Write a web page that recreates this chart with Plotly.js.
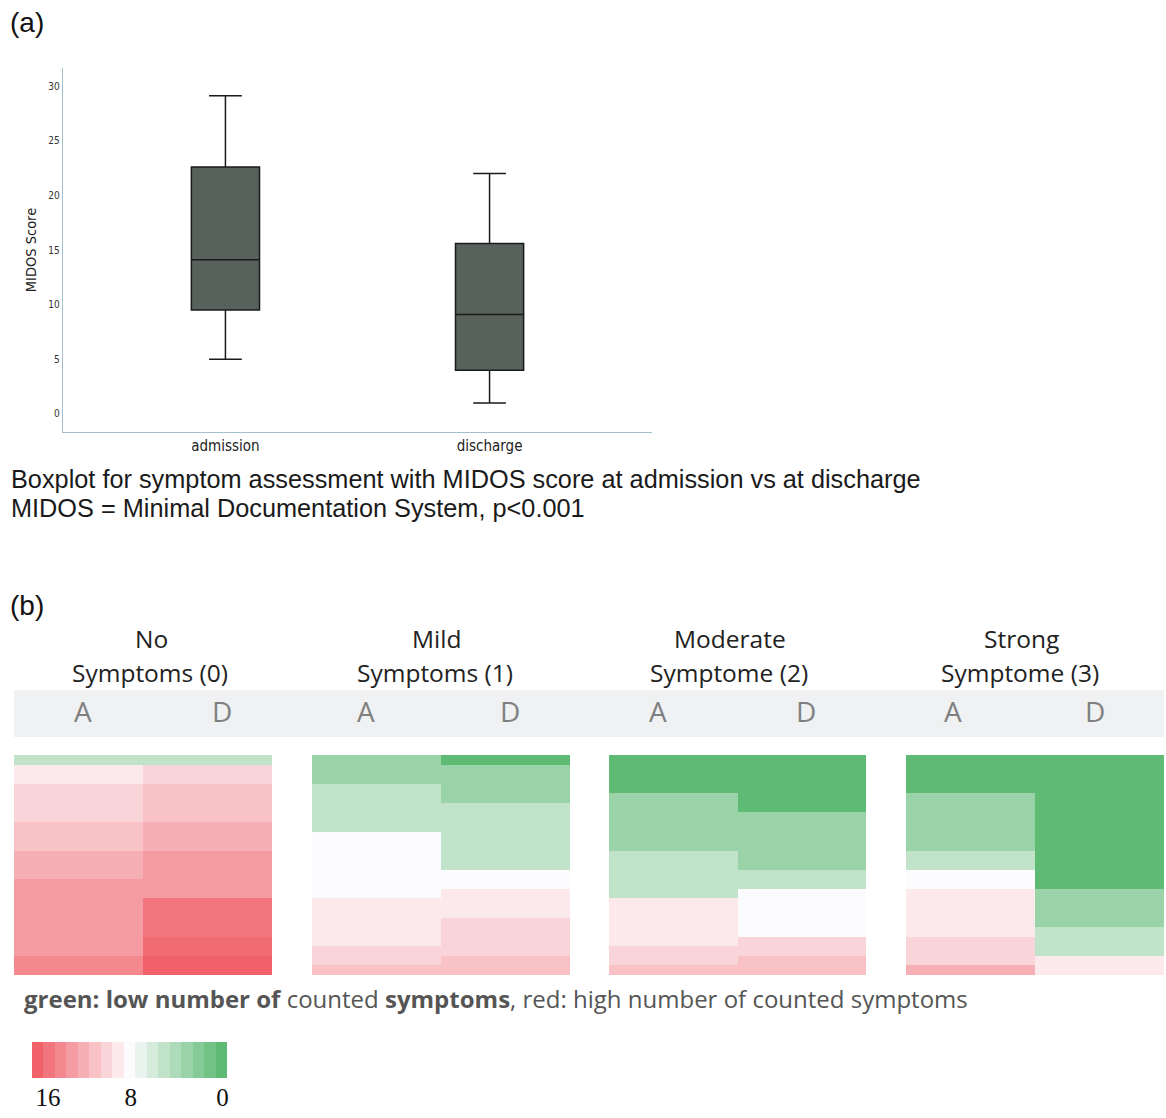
<!DOCTYPE html>
<html>
<head>
<meta charset="utf-8">
<script src="https://cdn.plot.ly/plotly-3.0.1.min.js"></script>
<style>
html,body{margin:0;padding:0;background:#fff;}
#chart{width:1166px;height:1118px;}
</style>
</head>
<body>
<div id="chart"></div>
<script>
// ---------- Data: (a) boxplot ----------
const boxCategories = ['admission', 'discharge'];
const boxLowerFence = [5.0, 1.0];
const boxQ1 = [9.5, 4.0];
const boxMedian = [14.1, 9.1];
const boxQ3 = [22.6, 15.6];
const boxUpperFence = [29.1, 22.0];
const boxYTicks = [0, 5, 10, 15, 20, 25, 30];

// ---------- Data: (b) heatmaps (23 patients, sorted) ----------
const heatColumns = ['A', 'D'];
const patientRows = [1,2,3,4,5,6,7,8,9,10,11,12,13,14,15,16,17,18,19,20,21,22,23];
const groupTitleLine1 = ['No', 'Mild', 'Moderate', 'Strong'];
const groupTitleLine2 = ['Symptoms (0)', 'Symptoms (1)', 'Symptome (2)', 'Symptome (3)'];

const noA   = [5, 9,9, 10,10,10,10, 11,11,11, 12,12,12, 13,13,13,13,13,13, 13,13,14,14];
const noD   = [5, 10,10, 11,11,11,11, 12,12,12, 13,13,13,13,13, 15,15,15,15, 15.5,15.5,16,16];
const mildA = [3,3,3, 5,5,5,5,5, 8,8,8,8,8,8,8, 9,9,9,9,9, 10,10, 11];
const mildD = [0, 3,3,3,3, 5,5,5,5,5,5,5, 8,8, 9,9,9, 10,10,10,10, 11,11];
const modA  = [0,0,0,0, 3,3,3,3,3,3, 5,5,5,5,5, 9,9,9,9,9, 10,10, 11];
const modD  = [0,0,0,0,0,0, 3,3,3,3,3,3, 5,5, 8,8,8,8,8, 10,10, 11,11];
const strA  = [0,0,0,0, 3,3,3,3,3,3, 5,5, 8,8, 9,9,9,9,9, 10,10,10, 12];
const strD  = [0,0,0,0,0,0,0,0,0,0,0,0,0,0, 3,3,3,3, 5,5,5, 9,9];

// ---------- Data: colour legend ----------
const legendValues = [16,15,14,13,12,11,10,9,8,7,6,5,4,3,2,1,0];
const legendTickText = ['16', '8', '0'];
const legendTickPositions = [15.1, 7.9, -0.1];

// ---------- Helpers ----------
const W = 1166, H = 1118;
const px = x => x / W;
const py = y => 1 - y / H;
const colorscale = [[0, '#5fba74'], [0.5, '#fcfcfe'], [1, '#f0616a']];

function zip(a, d) { return a.map((v, i) => [v, d[i]]); }

const panels = [[noA, noD], [mildA, mildD], [modA, modD], [strA, strD]];
const panelX = [[14, 272], [312, 570], [609, 866], [906, 1164]];

const traces = [];
traces.push({
  type: 'box',
  x: boxCategories,
  q1: boxQ1, median: boxMedian, q3: boxQ3,
  lowerfence: boxLowerFence, upperfence: boxUpperFence,
  width: 0.258,
  whiskerwidth: 0.48,
  fillcolor: '#57625c',
  line: {color: '#1a1a1a', width: 1.5},
  boxpoints: false,
  showlegend: false,
  xaxis: 'x', yaxis: 'y'
});

panels.forEach((p, i) => {
  traces.push({
    type: 'heatmap',
    x: heatColumns,
    y: patientRows,
    z: zip(p[0], p[1]),
    zmin: 0, zmax: 16,
    colorscale: colorscale,
    showscale: false,
    xaxis: 'x' + (i + 2), yaxis: 'y' + (i + 2)
  });
});

traces.push({
  type: 'heatmap',
  x: legendValues,
  y: [0],
  z: [legendValues],
  zmin: 0, zmax: 16,
  colorscale: colorscale,
  showscale: false,
  xaxis: 'x6', yaxis: 'y6'
});

const hidden = {showgrid: false, zeroline: false, showticklabels: false, ticks: '', showline: false, fixedrange: true};
const narrow = 'Liberation Sans Narrow, DejaVu Sans Condensed, Liberation Sans, sans-serif';

const layout = {
  width: W, height: H,
  margin: {l: 0, r: 0, t: 0, b: 0},
  paper_bgcolor: '#ffffff',
  plot_bgcolor: 'rgba(0,0,0,0)',
  showlegend: false,
  font: {family: 'Liberation Sans, Arial, sans-serif', color: '#222'},
  xaxis: {
    domain: [px(63), px(652)],
    type: 'category',
    range: [-0.615, 1.615],
    showline: true, linecolor: '#a3c0cf', linewidth: 1.2,
    showgrid: false, zeroline: false, ticks: '',
    tickfont: {family: narrow, size: 15, color: '#222'},
    anchor: 'y'
  },
  yaxis: {
    domain: [py(432), py(68)],
    range: [-1.65, 31.65],
    tickvals: boxYTicks,
    showline: true, linecolor: '#a3c0cf', linewidth: 1.2,
    showgrid: false, zeroline: false, ticks: '',
    tickfont: {family: narrow, size: 10, color: '#333'},
    title: {text: 'MIDOS Score', standoff: 8, font: {family: narrow, size: 14.5, color: '#222'}},
    anchor: 'x'
  },
  annotations: [],
  shapes: [{
    type: 'rect', xref: 'paper', yref: 'paper', layer: 'below',
    x0: px(14), x1: px(1164), y0: py(737), y1: py(690),
    fillcolor: '#f0f1f3', line: {width: 0}
  }]
};

panels.forEach((p, i) => {
  const n = i + 2;
  layout['xaxis' + n] = Object.assign({}, hidden, {domain: [px(panelX[i][0]), px(panelX[i][1])], anchor: 'y' + n});
  layout['yaxis' + n] = Object.assign({}, hidden, {domain: [py(975), py(755)], autorange: 'reversed', anchor: 'x' + n});
});

layout.xaxis6 = {
  domain: [px(32), px(227)], anchor: 'y6',
  range: [16.5, -0.5],
  tickvals: legendTickPositions, ticktext: legendTickText,
  ticklabelstandoff: 2,
  showgrid: false, zeroline: false, showline: false, ticks: '',
  tickfont: {family: 'Liberation Serif, DejaVu Serif, serif', size: 25, color: '#111'},
  fixedrange: true
};
layout.yaxis6 = Object.assign({}, hidden, {domain: [py(1078), py(1042)], anchor: 'x6'});

function ann(text, x, y, opts) {
  layout.annotations.push(Object.assign({
    text: text, xref: 'paper', yref: 'paper', x: px(x), y: py(y),
    xanchor: 'center', yanchor: 'middle', showarrow: false
  }, opts || {}));
}

// Panel labels and captions
ann('(a)', 8, 22, {xanchor: 'left', font: {family: 'Liberation Sans, Arial, sans-serif', size: 28, color: '#111'}});
ann('(b)', 8, 605, {xanchor: 'left', font: {family: 'Liberation Sans, Arial, sans-serif', size: 28, color: '#111'}});
ann('Boxplot for symptom assessment with MIDOS score at admission vs at discharge', 9, 479,
    {xanchor: 'left', font: {family: 'Liberation Sans, Arial, sans-serif', size: 25.3, color: '#1a1a1a'}});
ann('MIDOS = Minimal Documentation System, p<0.001', 9, 508,
    {xanchor: 'left', font: {family: 'Liberation Sans, Arial, sans-serif', size: 25.3, color: '#1a1a1a'}});

// Group headers
const headerCenters = [151, 436, 730, 1021];
groupTitleLine1.forEach((t, i) => {
  ann(t, headerCenters[i], 638, {font: {family: 'Open Sans, sans-serif', size: 24.5, color: '#222'}});
  ann(groupTitleLine2[i], headerCenters[i] - 1, 672, {font: {family: 'Open Sans, sans-serif', size: 24.5, color: '#222'}});
});

// A / D column labels
const adCenters = [83, 222, 366, 510, 658, 806, 953, 1095];
adCenters.forEach((c, i) => {
  ann(heatColumns[i % 2], c, 711, {font: {family: 'Open Sans, sans-serif', size: 28, color: '#808080'}});
});

// Explanation caption
ann('<b>green: low number of</b> counted <b>symptoms</b>, red: high number of counted symptoms', 22, 998,
    {xanchor: 'left', font: {family: 'Open Sans, sans-serif', size: 24, color: '#555'}});

Plotly.newPlot('chart', traces, layout, {displayModeBar: false, staticPlot: true});
</script>
</body>
</html>
